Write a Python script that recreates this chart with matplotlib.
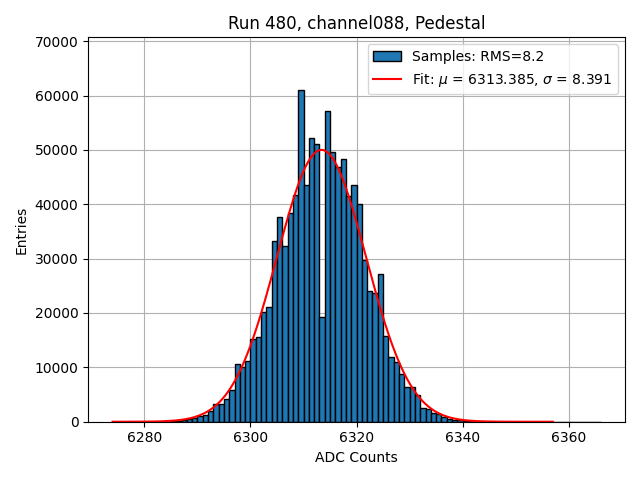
import numpy as np
import matplotlib
matplotlib.use("Agg")
import matplotlib.pyplot as plt

# === Data ===
# histogram bins: unit width ADC bins, left edges 6274 .. 6365
bin_start = 6274
counts = [
    # 6274 - 6285 (far left tail)
    1, 0, 0, 2, 1, 3, 5, 8, 12, 20, 30, 55,
    # 6286 - 6299
    120, 240, 430, 610, 1040, 1220, 2010, 3170, 3350, 4090, 5800, 10700, 10000, 11100,
    # 6300 - 6309
    15200, 15500, 20200, 21100, 33300, 37600, 32400, 38400, 41700, 61100,
    # 6310 - 6319
    43600, 52100, 51000, 19200, 57100, 49600, 46900, 48300, 41600, 43500,
    # 6320 - 6329
    40000, 29800, 24100, 23700, 27100, 15800, 11900, 11000, 8800, 6400,
    # 6330 - 6340
    6300, 4900, 2600, 2250, 1650, 1350, 900, 550, 350, 250, 150,
    # 6341 - 6365 (far right tail, empty bins)
    100, 60, 35, 20, 12, 0, 0, 0, 0, 0, 0, 0, 0, 0, 0, 0, 0, 0, 0, 0, 0, 0, 0, 0, 0,
]

rms = 8.2
fit_mu = 6313.385
fit_sigma = 8.391
fit_amp = 50000
fit_range = (6274, 6357)

run = 480
channel = "channel088"

# === Plot ===
edges = np.arange(bin_start, bin_start + len(counts) + 1)
centers = edges[:-1] + 0.5

fig, ax = plt.subplots(figsize=(6.4, 4.8), dpi=100)
ax.hist(centers, bins=edges, weights=counts, color="#1f77b4", edgecolor="black",
        label=f"Samples: RMS={rms}")

x_fit = np.linspace(fit_range[0], fit_range[1], 500)
y_fit = fit_amp * np.exp(-0.5 * ((x_fit - fit_mu) / fit_sigma) ** 2)
ax.plot(x_fit, y_fit, color="red",
        label=rf"Fit: $\mu$ = {fit_mu:.3f}, $\sigma$ = {fit_sigma:.3f}")

ax.set_ylim(0, 70700)
ax.set_title(f"Run {run}, {channel}, Pedestal")
ax.set_xlabel("ADC Counts")
ax.set_ylabel("Entries")
ax.grid(True)
ax.set_axisbelow(True)
ax.legend(loc="upper right")
fig.tight_layout()
fig.savefig("out.png")
